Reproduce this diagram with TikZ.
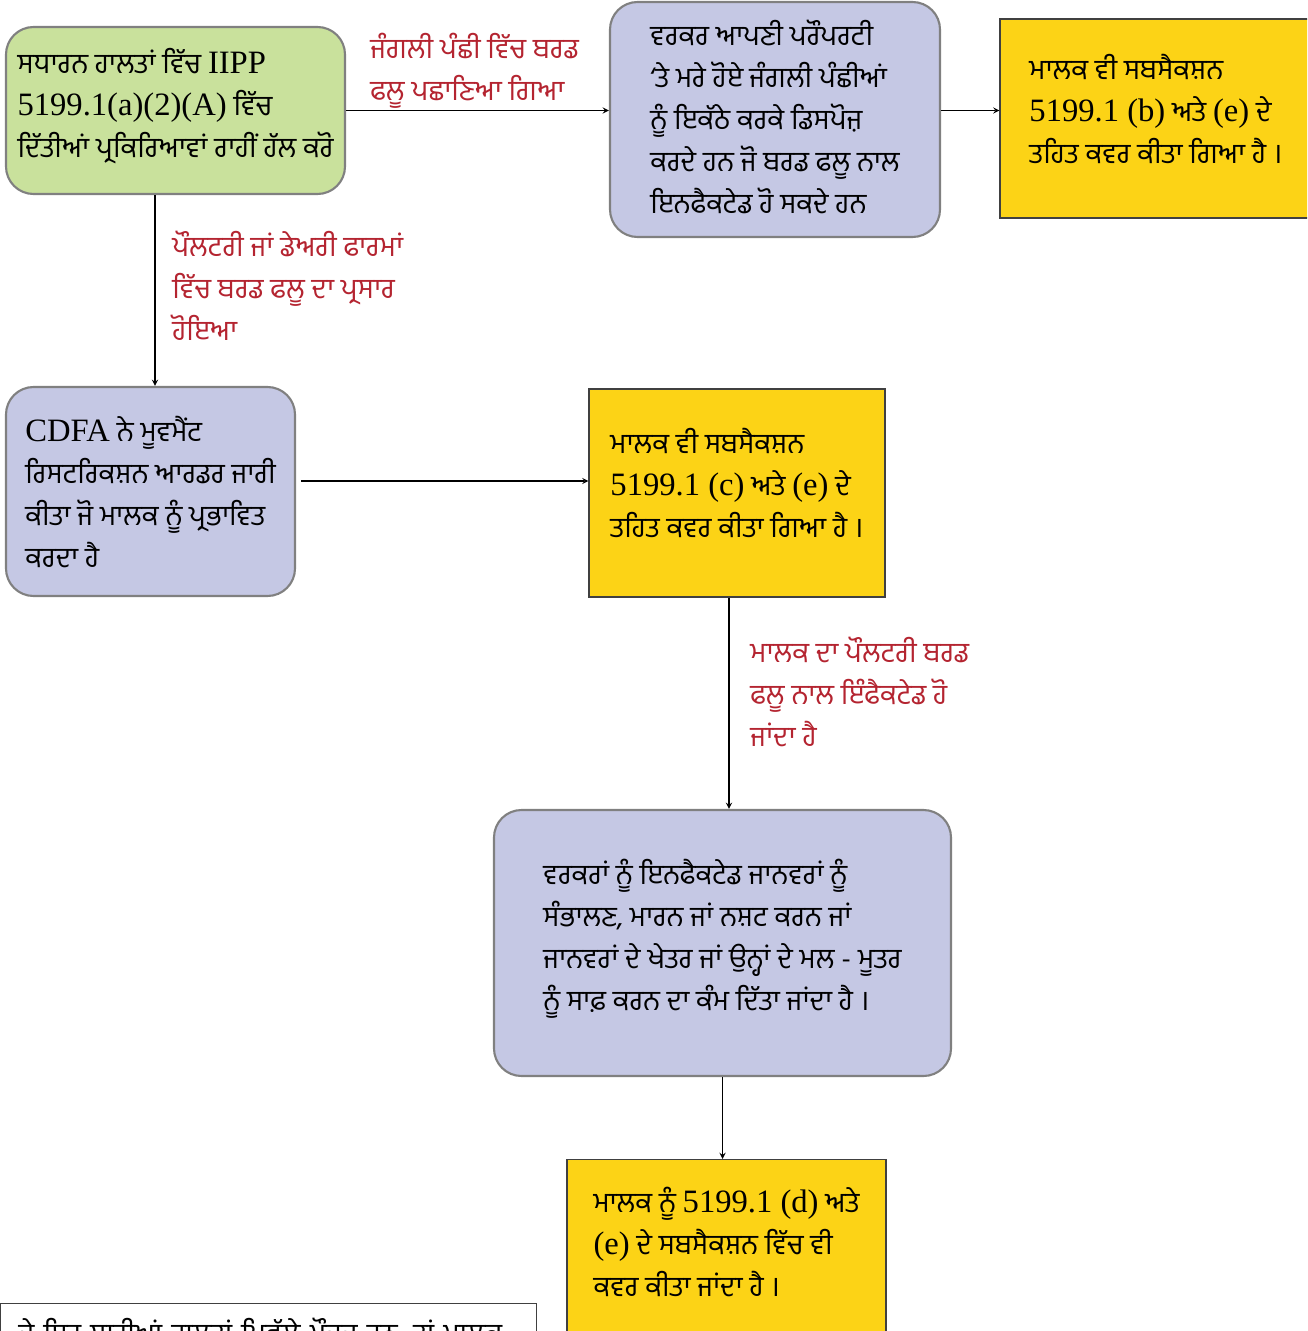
\documentclass[tikz,border=0pt]{standalone}
\usepackage{fontspec}
\setmainfont{Hind Jalandhar}[Script=Gurmukhi]
\newfontfamily\engfont{Liberation Serif}[Scale=1.16]
\newcommand{\eng}[1]{{\engfont #1}}
\usepackage{tikz}
\usetikzlibrary{arrows,shapes,positioning}
\usepackage{xcolor}
\definecolor{bfgreen}{RGB}{201,225,156}
\definecolor{bfpurple}{RGB}{197,200,228}
\definecolor{bfyellow}{RGB}{252,211,22}
\definecolor{bfgray}{RGB}{128,128,128}
\definecolor{bfred}{RGB}{180,36,48}
\tikzstyle{arrow} = [->,>=stealth,line width=0.6pt]
\tikzstyle{roundbox} = [draw=bfgray,line width=1.2pt,rounded corners=0.55cm,align=left,inner sep=0pt,font=\fontsize{16}{23.9}\selectfont]
\tikzstyle{squarebox} = [draw=black!75,line width=0.6pt,fill=bfyellow,align=left,inner sep=0pt,text depth=0.4cm,font=\fontsize{16}{23.9}\selectfont]
\tikzstyle{edgelabel} = [anchor=north west,align=left,inner sep=0pt,text=bfred,font=\fontsize{16}{23.9}\selectfont]

\begin{document}
\begin{tikzpicture}
\useasboundingbox (0,0) rectangle (26.14,-26.62);
\clip (0,0) rectangle (26.14,-26.62);

% Boxes
\node[roundbox, fill=bfgreen, text depth=0.32cm, minimum width=6.78cm, minimum height=3.34cm] (normal) at (3.51,-2.21)
  {ਸਧਾਰਨ ਹਾਲਤਾਂ ਵਿੱਚ \eng{IIPP}\\ \eng{5199.1(a)(2)(A)} ਵਿੱਚ\\ ਦਿੱਤੀਆਂ ਪ੍ਰਕਿਰਿਆਵਾਂ ਰਾਹੀਂ ਹੱਲ ਕਰੋ};
\node[roundbox, fill=bfpurple, text depth=0.12cm, minimum width=6.6cm, minimum height=4.7cm] (workers) at (15.5,-2.39)
  {ਵਰਕਰ ਆਪਣੀ ਪਰੌਪਰਟੀ\\ ‘ਤੇ ਮਰੇ ਹੋਏ ਜੰਗਲੀ ਪੰਛੀਆਂ\\ ਨੂੰ ਇਕੱਠੇ ਕਰਕੇ ਡਿਸਪੋਜ਼\\ ਕਰਦੇ ਹਨ ਜੋ ਬਰਡ ਫਲੂ ਨਾਲ\\ ਇਨਫੈਕਟੇਡ ਹੋ ਸਕਦੇ ਹਨ};
\node[squarebox, minimum width=6.24cm, minimum height=3.98cm] (coverb) at (23.12,-2.37)
  {ਮਾਲਕ ਵੀ ਸਬਸੈਕਸ਼ਨ\\ \eng{5199.1 (b)} ਅਤੇ \eng{(e)} ਦੇ\\ ਤਹਿਤ ਕਵਰ ਕੀਤਾ ਗਿਆ ਹੈ ।};
\node[roundbox, fill=bfpurple, text depth=0cm, minimum width=5.78cm, minimum height=4.18cm] (cdfa) at (3.01,-9.83)
  {\eng{CDFA} ਨੇ ਮੂਵਮੈਂਟ\\ ਰਿਸਟਰਿਕਸ਼ਨ ਆਰਡਰ ਜਾਰੀ\\ ਕੀਤਾ ਜੋ ਮਾਲਕ ਨੂੰ ਪ੍ਰਭਾਵਿਤ\\ ਕਰਦਾ ਹੈ};
\node[squarebox, minimum width=5.92cm, minimum height=4.16cm] (coverc) at (14.74,-9.86)
  {ਮਾਲਕ ਵੀ ਸਬਸੈਕਸ਼ਨ\\ \eng{5199.1 (c)} ਅਤੇ \eng{(e)} ਦੇ\\ ਤਹਿਤ ਕਵਰ ਕੀਤਾ ਗਿਆ ਹੈ ।};
\node[roundbox, fill=bfpurple, text depth=0.32cm, minimum width=9.14cm, minimum height=5.32cm] (handle) at (14.45,-18.86)
  {ਵਰਕਰਾਂ ਨੂੰ ਇਨਫੈਕਟੇਡ ਜਾਨਵਰਾਂ ਨੂੰ\\ ਸੰਭਾਲਣ, ਮਾਰਨ ਜਾਂ ਨਸ਼ਟ ਕਰਨ ਜਾਂ\\ ਜਾਨਵਰਾਂ ਦੇ ਖੇਤਰ ਜਾਂ ਉਨ੍ਹਾਂ ਦੇ ਮਲ - ਮੂਤਰ\\ ਨੂੰ ਸਾਫ਼ ਕਰਨ ਦਾ ਕੰਮ ਦਿੱਤਾ ਜਾਂਦਾ ਹੈ ।};
\node[squarebox, anchor=north, minimum width=6.38cm, minimum height=3.7cm] (coverd) at (14.53,-23.18)
  {ਮਾਲਕ ਨੂੰ \eng{5199.1 (d)} ਅਤੇ\\ \eng{(e)} ਦੇ ਸਬਸੈਕਸ਼ਨ ਵਿੱਚ ਵੀ\\ ਕਵਰ ਕੀਤਾ ਜਾਂਦਾ ਹੈ ।};
\node[squarebox, fill=white, anchor=north west, minimum width=10.7cm, minimum height=3cm, text width=10cm, inner xsep=0.36cm, inner ysep=0.3cm, text depth=2cm] (allcond) at (0,-26.06)
  {ਜੇ ਇਹ ਸਾਰੀਆਂ ਹਾਲਤਾਂ ਪਿਛੱਲੇ ਮੌਜੂਦ ਹਨ, ਤਾਂ ਮਾਲਕ};

% Labels
\node[edgelabel] (wildlbl) at (7.4,-0.66) {ਜੰਗਲੀ ਪੰਛੀ ਵਿੱਚ ਬਰਡ\\ ਫਲੂ ਪਛਾਣਿਆ ਗਿਆ};
\node[edgelabel] (farmlbl) at (3.44,-4.62) {ਪੌਲਟਰੀ ਜਾਂ ਡੇਅਰੀ ਫਾਰਮਾਂ\\ ਵਿੱਚ ਬਰਡ ਫਲੂ ਦਾ ਪ੍ਰਸਾਰ\\ ਹੋਇਆ};
\node[edgelabel] (ownlbl) at (15.0,-12.74) {ਮਾਲਕ ਦਾ ਪੌਲਟਰੀ ਬਰਡ\\ ਫਲੂ ਨਾਲ ਇੰਫੈਕਟੇਡ ਹੋ\\ ਜਾਂਦਾ ਹੈ};

% Arrows
\draw[arrow] (normal.east) -- (normal.east -| workers.west);
\draw[arrow] (workers.east |- normal.east) -- (coverb.west |- normal.east);
\draw[arrow] ([xshift=0.09cm]normal.south -| cdfa.north) -- ([xshift=0.09cm]cdfa.north);
\draw[arrow] ([shift={(0.1cm,0.21cm)}]cdfa.east) -- ([yshift=0.21cm]cdfa.east -| coverc.west);
\draw[arrow] ([xshift=-0.16cm]coverc.south) -- ([xshift=-0.16cm]coverc.south |- handle.north);
\draw[arrow] (handle.south) -- (handle.south |- coverd.north);
\end{tikzpicture}
\end{document}
